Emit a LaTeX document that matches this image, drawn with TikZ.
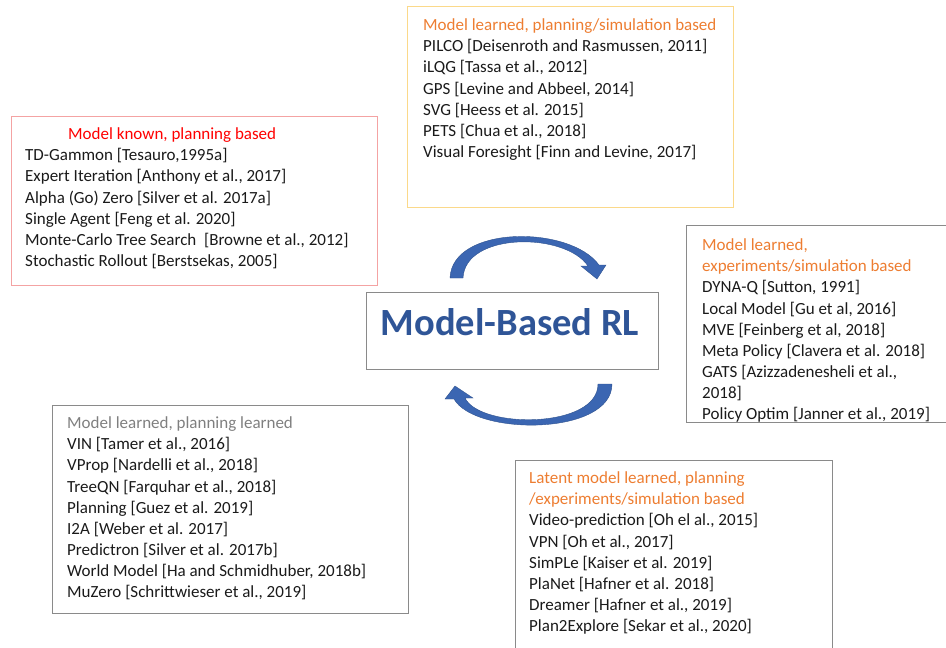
\documentclass[tikz,border=0pt]{standalone}
\usepackage{fontspec}
\setmainfont{Carlito}
\definecolor{mbblue}{HTML}{2F5597}
\definecolor{arrowblue}{HTML}{3B66B2}
\definecolor{titleorange}{HTML}{ED7D31}
\definecolor{titlered}{HTML}{FF0000}
\definecolor{titlegray}{HTML}{7F7F7F}
\definecolor{boxred}{HTML}{F4A3A3}
\definecolor{boxyellow}{HTML}{FBD98A}
\definecolor{boxgray}{HTML}{8A8A8A}
\definecolor{bodytext}{HTML}{1A1A1A}
\newcommand\firstline{\rule{0pt}{14pt}}
\tikzset{
  panel/.style={draw=#1, line width=1.3pt, inner sep=0pt, anchor=north west},
  listing/.style={anchor=north west, inner sep=0pt, align=left, text=bodytext,
    font=\fontsize{17}{21.1}\selectfont},
  curvedarrow/.style={fill=arrowblue, draw=arrowblue!80!black, line width=0.4pt},
}
\begin{document}
\begin{tikzpicture}[x=1pt, y=-1pt]
\useasboundingbox (0,0) rectangle (946,648);

% frames
\node[panel=boxred, minimum width=366pt, minimum height=169pt] (known) at (11,116) {};
\node[panel=boxyellow, minimum width=326pt, minimum height=201pt] (plansim) at (407,6) {};
\node[panel=boxgray, minimum width=290pt, minimum height=197pt] (expsim) at (686,225) {};
\node[panel=boxgray, minimum width=292pt, minimum height=77pt] (center) at (366,292) {};
\node[panel=boxgray, minimum width=356pt, minimum height=208pt] (learned) at (52,405) {};
\node[panel=boxgray, minimum width=317pt, minimum height=200pt] (latent) at (515,460) {};

% title of the centre
\node[anchor=base, inner sep=0pt, text=mbblue, font=\fontsize{38.5}{46}\selectfont\bfseries]
  (mbrl) at (510,335) {Model-Based RL};

% lists
\node[listing] (knowntext) at (25,125.5) {%
  \firstline\hspace*{43pt}\textcolor{titlered}{Model known, planning based}\\
  TD-Gammon [Tesauro,1995a]\\
  Expert Iteration [Anthony et al., 2017]\\
  Alpha (Go) Zero [Silver et al. 2017a]\\
  Single Agent [Feng et al. 2020]\\
  Monte-Carlo Tree Search\ \ [Browne et al., 2012]\\
  Stochastic Rollout [Berstsekas, 2005]};

\node[listing] (plansimtext) at (423,16.5) {%
  \firstline\textcolor{titleorange}{Model learned, planning/simulation based}\\
  PILCO [Deisenroth and Rasmussen, 2011]\\
  iLQG [Tassa et al., 2012]\\
  GPS [Levine and Abbeel, 2014]\\
  SVG [Heess et al. 2015]\\
  PETS [Chua et al., 2018]\\
  Visual Foresight [Finn and Levine, 2017]};

\node[listing] (expsimtext) at (702,236.5) {%
  \firstline\textcolor{titleorange}{Model learned,}\\
  \textcolor{titleorange}{experiments/simulation based}\\
  DYNA-Q [Sutton, 1991]\\
  Local Model [Gu et al, 2016]\\
  MVE [Feinberg et al, 2018]\\
  Meta Policy [Clavera et al. 2018]\\
  GATS [Azizzadenesheli et al.,\\
  2018]\\
  Policy Optim [Janner et al., 2019]};

\node[listing] (learnedtext) at (67,414.5) {%
  \firstline\textcolor{titlegray}{Model learned, planning learned}\\
  VIN [Tamer et al., 2016]\\
  VProp [Nardelli et al., 2018]\\
  TreeQN [Farquhar et al., 2018]\\
  Planning [Guez et al. 2019]\\
  I2A [Weber et al. 2017]\\
  Predictron [Silver et al. 2017b]\\
  World Model [Ha and Schmidhuber, 2018b]\\
  MuZero [Schrittwieser et al., 2019]};

\node[listing] (latenttext) at (529,469.5) {%
  \firstline\textcolor{titleorange}{Latent model learned, planning}\\
  \textcolor{titleorange}{/experiments/simulation based}\\
  Video-prediction [Oh el al., 2015]\\
  VPN [Oh et al., 2017]\\
  SimPLe [Kaiser et al. 2019]\\
  PlaNet [Hafner et al. 2018]\\
  Dreamer [Hafner et al., 2019]\\
  Plan2Explore [Sekar et al., 2020]};

% cycle arrows around the centre
\path[curvedarrow]
  (450,278) -- (463,278)
  .. controls (465,232) and (565,232) .. (588,266)
  -- (581,266) -- (597,279) -- (606,265) -- (599,265)
  .. controls (570,225) and (452,225) .. (450,278) -- cycle;
\path[curvedarrow]
  (612,384) -- (598,384)
  .. controls (598,429) and (480,429) .. (465,398)
  -- (473,398) -- (455,386) -- (445,399) -- (454,399)
  .. controls (475,436) and (612,436) .. (612,384) -- cycle;
\end{tikzpicture}
\end{document}
